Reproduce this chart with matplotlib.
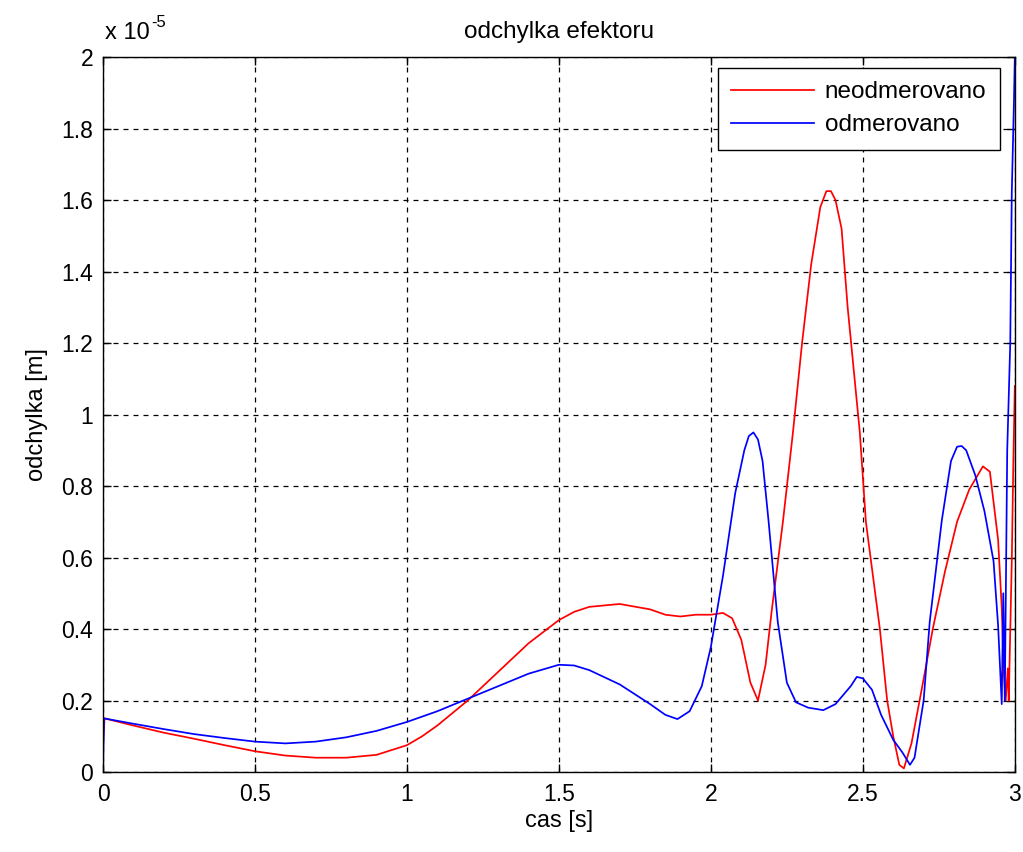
import matplotlib
matplotlib.use("Agg")
import matplotlib.pyplot as plt

# values in units of 1e-5 m
t_neodm = [0, 0.005, 0.1, 0.2, 0.3, 0.4, 0.5, 0.6, 0.7, 0.8, 0.9, 1.0, 1.05, 1.1, 1.2, 1.3,
           1.4, 1.5, 1.55, 1.6, 1.7, 1.8, 1.85, 1.9, 1.95, 2.0, 2.04, 2.07, 2.1, 2.13, 2.155, 2.18,
           2.2, 2.237, 2.27, 2.3, 2.33, 2.36, 2.38, 2.395, 2.41, 2.43, 2.45, 2.49, 2.51, 2.556, 2.58,
           2.6, 2.62, 2.635, 2.66, 2.7, 2.73, 2.77, 2.81, 2.85, 2.895, 2.918, 2.945, 2.957,
           2.963, 2.97, 2.977, 2.98, 2.99, 2.995, 3.0]
y_neodm = [0.075, 0.15, 0.13, 0.11, 0.093, 0.075, 0.058, 0.046, 0.04, 0.04, 0.048, 0.075, 0.1,
           0.13, 0.2, 0.28, 0.36, 0.425, 0.448, 0.462, 0.47, 0.455, 0.44, 0.435, 0.44, 0.44, 0.445,
           0.43, 0.37, 0.25, 0.2, 0.3, 0.45, 0.7, 0.95, 1.2, 1.42, 1.58, 1.625, 1.625, 1.6, 1.52, 1.3,
           0.95, 0.7, 0.4, 0.2, 0.1, 0.02, 0.01, 0.08, 0.26, 0.4, 0.56, 0.7, 0.79, 0.855, 0.84,
           0.65, 0.46, 0.29, 0.2, 0.29, 0.2, 0.59, 0.86, 1.08]

t_odm = [0, 0.003, 0.1, 0.2, 0.3, 0.4, 0.5, 0.6, 0.7, 0.8, 0.9, 1.0, 1.1, 1.2, 1.3, 1.4, 1.5,
         1.55, 1.6, 1.7, 1.8, 1.85, 1.89, 1.93, 1.97, 2.0, 2.04, 2.08, 2.11, 2.125, 2.14, 2.155,
         2.17, 2.19, 2.22, 2.25, 2.28, 2.32, 2.37, 2.41, 2.44, 2.46, 2.48, 2.5, 2.53, 2.56, 2.6,
         2.63, 2.655, 2.67, 2.7, 2.72, 2.76, 2.79, 2.81, 2.825, 2.84, 2.87, 2.9, 2.93, 2.945,
         2.957, 2.962, 2.967, 2.975, 2.985, 2.99, 2.997, 3.0]
y_odm = [0, 0.15, 0.135, 0.12, 0.106, 0.095, 0.085, 0.08, 0.085, 0.097, 0.115, 0.14, 0.17,
         0.205, 0.24, 0.275, 0.3, 0.298, 0.285, 0.245, 0.19, 0.16, 0.148, 0.17, 0.24, 0.35,
         0.55, 0.78, 0.9, 0.94, 0.95, 0.93, 0.87, 0.7, 0.42, 0.25, 0.195, 0.18, 0.173, 0.19,
         0.22, 0.24, 0.266, 0.262, 0.23, 0.16, 0.09, 0.055, 0.02, 0.04, 0.2, 0.42, 0.705, 0.87,
         0.91, 0.912, 0.9, 0.83, 0.73, 0.59, 0.41, 0.19, 0.5, 0.2, 0.9, 1.2, 1.62, 1.87, 2.0]

x_ticks = [0, 0.5, 1, 1.5, 2, 2.5, 3]
x_labels = ["0", "0.5", "1", "1.5", "2", "2.5", "3"]
y_ticks = [0, 0.2, 0.4, 0.6, 0.8, 1, 1.2, 1.4, 1.6, 1.8, 2]
y_labels = ["0", "0.2", "0.4", "0.6", "0.8", "1", "1.2", "1.4", "1.6", "1.8", "2"]

plt.rcParams["font.family"] = ["Liberation Sans", "DejaVu Sans"]

fig = plt.figure(figsize=(10.23, 8.52), dpi=100)
ax = fig.add_axes([0.1007, 0.0939, 0.8913, 0.8391])

ax.plot(t_neodm, y_neodm, color="red", lw=1.25, label="neodmerovano")
ax.plot(t_odm, y_odm, color="blue", lw=1.25, label="odmerovano")

ax.set_xlim(0, 3)
ax.set_ylim(0, 2)
ax.set_xticks(x_ticks)
ax.set_xticklabels(x_labels)
ax.set_yticks(y_ticks)
ax.set_yticklabels(y_labels)
ax.tick_params(direction="in", top=True, right=True, length=6, width=1, labelsize=16.5)
ax.tick_params(axis="x", pad=8)
ax.tick_params(axis="y", pad=7)
ax.grid(True, color="black", linestyle=(0, (4, 4)), linewidth=0.9)

for s in ax.spines.values():
    s.set_linewidth(1)

ax.set_title("odchylka efektoru", fontsize=17.5, pad=14)
ax.set_xlabel("cas [s]", fontsize=17, labelpad=3)
ax.set_ylabel("odchylka [m]", fontsize=17, labelpad=10)
# multiplier shown the MATLAB way
ax.text(0.002, 1.018, "x 10", transform=ax.transAxes, fontsize=17, ha="left", va="bottom")
ax.text(0.053, 1.038, "-5", transform=ax.transAxes, fontsize=12, ha="left", va="bottom")

leg = ax.legend(loc="upper right", bbox_to_anchor=(0.9836, 0.9846), borderaxespad=0,
                fancybox=False, edgecolor="black", framealpha=1, fontsize=17.5,
                handlelength=3.4, borderpad=0.55, labelspacing=0.45, handletextpad=0.45)
leg.get_frame().set_linewidth(1)

fig.savefig("out.png", dpi=100)
